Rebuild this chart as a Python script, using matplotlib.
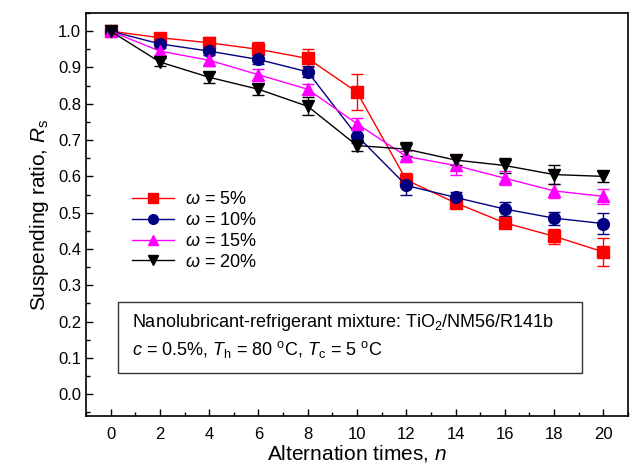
import matplotlib
matplotlib.use("Agg")
import matplotlib.pyplot as plt
from matplotlib.ticker import MultipleLocator
from matplotlib.lines import Line2D
from matplotlib.patches import Rectangle

plt.rcParams['font.family'] = ['Liberation Sans', 'DejaVu Sans']
plt.rcParams['mathtext.fontset'] = 'custom'
plt.rcParams['mathtext.rm'] = 'Liberation Sans'
plt.rcParams['mathtext.it'] = 'Liberation Sans:italic'

n = [0, 2, 4, 6, 8, 10, 12, 14, 16, 18, 20]
labels = [r'$\mathit{\omega}$ = 5%', r'$\mathit{\omega}$ = 10%', r'$\mathit{\omega}$ = 15%', r'$\mathit{\omega}$ = 20%']
rs_5 = [1.0, 0.982, 0.968, 0.950, 0.925, 0.832, 0.590, 0.527, 0.472, 0.435, 0.392]
rs_10 = [1.0, 0.965, 0.945, 0.922, 0.888, 0.712, 0.575, 0.542, 0.510, 0.485, 0.470]
rs_15 = [1.0, 0.945, 0.920, 0.880, 0.840, 0.745, 0.655, 0.630, 0.595, 0.560, 0.545]
rs_20 = [1.0, 0.915, 0.873, 0.840, 0.793, 0.685, 0.675, 0.645, 0.630, 0.605, 0.600]
err_5 = [0.005, 0.010, 0.015, 0.020, 0.025, 0.050, 0.020, 0.010, 0.015, 0.020, 0.038]
err_10 = [0.005, 0.010, 0.010, 0.012, 0.015, 0.020, 0.025, 0.015, 0.020, 0.018, 0.030]
err_15 = [0.005, 0.010, 0.015, 0.015, 0.015, 0.015, 0.015, 0.025, 0.020, 0.020, 0.020]
err_20 = [0.005, 0.010, 0.015, 0.015, 0.025, 0.015, 0.020, 0.015, 0.020, 0.025, 0.015]

series = [rs_5, rs_10, rs_15, rs_20]
errors = [err_5, err_10, err_15, err_20]
colors = ['#ff0000', '#000080', '#ff00ff', '#000000']
markers = ['s', 'o', '^', 'v']

fig = plt.figure(figsize=(6.35, 4.65), dpi=100)
ax = fig.add_axes([0.1354, 0.1054, 0.8536, 0.8666])

handles = []
for y, e, c, m, lab in zip(series, errors, colors, markers, labels):
    ax.errorbar(n, y, yerr=e, color=c, marker=m, markersize=8.5, linewidth=1.0,
                elinewidth=1.0, capsize=4, capthick=1.0)
    handles.append(Line2D([], [], color=c, marker=m, markersize=7, linewidth=1.0, label=lab))

ax.set_xlim(-1, 21)
ax.set_ylim(-0.06, 1.05)
ax.xaxis.set_major_locator(MultipleLocator(2))
ax.xaxis.set_minor_locator(MultipleLocator(1))
ax.yaxis.set_major_locator(MultipleLocator(0.1))
ax.yaxis.set_minor_locator(MultipleLocator(0.05))
ax.yaxis.set_major_formatter(plt.FuncFormatter(lambda v, p: f'{v:.1f}'))
ax.tick_params(which='both', direction='in', labelsize=12, width=1.0)
ax.tick_params(which='major', length=5)
ax.tick_params(which='minor', length=3)
ax.tick_params(axis='x', pad=8)
for s in ax.spines.values():
    s.set_linewidth(1.2)

ax.set_xlabel(r'Alternation times, $\mathit{n}$', fontsize=15, labelpad=1)
ax.set_ylabel(r'Suspending ratio, $\mathit{R}_\mathrm{s}$', fontsize=15, labelpad=5)

ax.legend(handles=handles, loc='upper left', bbox_to_anchor=(0.062, 0.59), frameon=False,
          fontsize=13, handlelength=2.3, labelspacing=0.22, handletextpad=0.6,
          borderpad=0.2)

ax.add_patch(Rectangle((0.059, 0.107), 0.856, 0.176, transform=ax.transAxes,
                       facecolor='white', edgecolor='#333333', linewidth=1.0, zorder=5))
ax.text(0.085, 0.233, 'Nanolubricant-refrigerant mixture: TiO$_2$/NM56/R141b',
        transform=ax.transAxes, fontsize=13, va='center', ha='left', zorder=6)
ax.text(0.085, 0.164,
        r'$\mathit{c}$ = 0.5%, $\mathit{T}_\mathrm{h}$ = 80 $^\mathrm{o}$C, $\mathit{T}_\mathrm{c}$ = 5 $^\mathrm{o}$C',
        transform=ax.transAxes, fontsize=13, va='center', ha='left', zorder=6)

fig.savefig('out.png', dpi=100)
